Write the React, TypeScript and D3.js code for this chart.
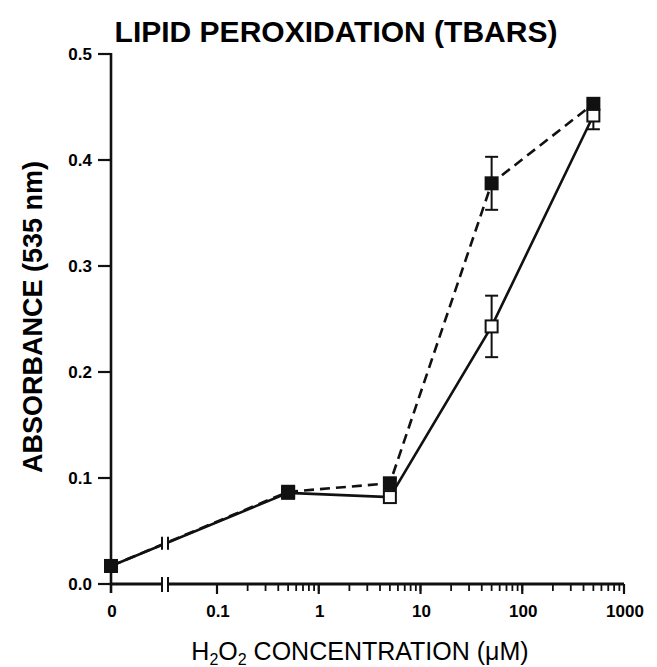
import React, { useEffect, useRef } from 'react';
import * as d3 from 'd3';

// H2O2 concentrations (uM); 0 is drawn left of the axis break
const concentrations = [0, 0.5, 5, 50, 500];
// filled squares, dashed line
const filledMeans = [0.017, 0.087, 0.095, 0.378, 0.453];
const filledErrors = [0.003, 0.003, 0.004, 0.025, 0.004];
// open squares, solid line
const openMeans = [0.017, 0.086, 0.082, 0.243, 0.442];
const openErrors = [0.003, 0.003, 0.004, 0.029, 0.013];

const yTicks = [0, 0.1, 0.2, 0.3, 0.4, 0.5];
const xMajorTicks = [0.1, 1, 10, 100, 1000];
const xTickLabels = ['0.1', '1', '10', '100', '1000'];

const FONT = '"Liberation Sans", Arial, Helvetica, sans-serif';

function App() {
    const ref = useRef<SVGSVGElement>(null);

    const width = 657;
    const height = 667;
    const zeroX = 111;
    const breakX = 165;

    useEffect(() => {
        d3.select(ref.current).selectAll('*').remove();
        draw();
    }, []);

    function draw() {
        const svg = d3.select(ref.current);

        const xLog = d3.scaleLog().domain([0.1, 1000]).range([217, 624]);
        const xPos = (v: number) => (v === 0 ? zeroX : xLog(v));
        const y = d3.scaleLinear().domain([0, 0.5]).range([584, 54]);

        // title
        svg.append('text')
            .attr('x', 336).attr('y', 42)
            .attr('text-anchor', 'middle')
            .style('font-family', FONT).style('font-weight', 'bold').style('font-size', '30px')
            .text('LIPID PEROXIDATION (TBARS)');

        // y label
        svg.append('text')
            .attr('transform', 'translate(42,317) rotate(-90)')
            .attr('text-anchor', 'middle')
            .style('font-family', FONT).style('font-weight', 'bold').style('font-size', '27px')
            .text('ABSORBANCE (535 nm)');

        // x label (the scan cuts it at the bottom edge; kept just inside here)
        const xl = svg.append('text')
            .attr('x', 360).attr('y', 660)
            .attr('text-anchor', 'middle')
            .style('font-family', FONT).style('font-size', '25px');
        xl.append('tspan').text('H');
        xl.append('tspan').attr('dy', 5).style('font-size', '16px').text('2');
        xl.append('tspan').attr('dy', -5).text('O');
        xl.append('tspan').attr('dy', 5).style('font-size', '16px').text('2');
        xl.append('tspan').attr('dy', -5).text(' CONCENTRATION (\u03BCM)');

        const axis = svg.append('g').attr('stroke', '#111').attr('fill', 'none');

        // y axis
        axis.append('line')
            .attr('x1', zeroX).attr('x2', zeroX)
            .attr('y1', y(0.5) - 1).attr('y2', y(0) + 9)
            .attr('stroke-width', 2.6);
        axis.selectAll('.ytick').data(yTicks).enter().append('line')
            .attr('x1', zeroX - 13).attr('x2', zeroX)
            .attr('y1', d => y(d)).attr('y2', d => y(d))
            .attr('stroke-width', 2.2);
        svg.selectAll('.ylab').data(yTicks).enter().append('text')
            .attr('x', 92).attr('y', d => y(d)).attr('dy', '0.36em')
            .attr('text-anchor', 'end')
            .style('font-family', FONT).style('font-weight', 'bold').style('font-size', '17px')
            .text(d => d3.format('.1f')(d));

        // x axis with break
        axis.append('line')
            .attr('x1', zeroX).attr('x2', breakX - 3)
            .attr('y1', y(0)).attr('y2', y(0)).attr('stroke-width', 2.8);
        axis.append('line')
            .attr('x1', breakX + 3).attr('x2', xLog(1000))
            .attr('y1', y(0)).attr('y2', y(0)).attr('stroke-width', 3);
        [-3, 3].forEach(o => {
            axis.append('line')
                .attr('x1', breakX + o).attr('x2', breakX + o)
                .attr('y1', y(0) - 7).attr('y2', y(0) + 8)
                .attr('stroke-width', 2);
        });
        axis.selectAll('.xminor').data(xLog.ticks()).enter().append('line')
            .attr('x1', d => xLog(d)).attr('x2', d => xLog(d))
            .attr('y1', y(0)).attr('y2', y(0) + 7)
            .attr('stroke-width', 1.8);
        axis.selectAll('.xmajor').data(xMajorTicks).enter().append('line')
            .attr('x1', d => xLog(d)).attr('x2', d => xLog(d))
            .attr('y1', y(0)).attr('y2', y(0) + 10)
            .attr('stroke-width', 2.2);

        const xLabelData = [{ v: 0, t: '0' }].concat(xMajorTicks.map((v, i) => ({ v, t: xTickLabels[i] })));
        svg.selectAll('.xlab').data(xLabelData).enter().append('text')
            .attr('x', d => xPos(d.v) + 1).attr('y', 617)
            .attr('text-anchor', 'middle')
            .style('font-family', FONT).style('font-weight', 'bold').style('font-size', '17px')
            .text(d => d.t);

        // series lines
        const line = d3.line<number>()
            .x((d, i) => xPos(concentrations[i]))
            .y(d => y(d));

        svg.append('path')
            .attr('d', line(openMeans))
            .attr('fill', 'none').attr('stroke', '#111').attr('stroke-width', 2.6);
        svg.append('path')
            .attr('d', line(filledMeans))
            .attr('fill', 'none').attr('stroke', '#111').attr('stroke-width', 2.6)
            .attr('stroke-dasharray', '10,6');

        // break on the first segment of the data line
        const x0 = xPos(concentrations[0]);
        const x1 = xPos(concentrations[1]);
        const yb = y(openMeans[0]) + (y(openMeans[1]) - y(openMeans[0])) * (breakX - x0) / (x1 - x0);
        svg.append('rect')
            .attr('x', breakX - 2).attr('y', yb - 6).attr('width', 4).attr('height', 12)
            .attr('fill', '#fff');
        [-3, 3].forEach(o => {
            svg.append('line')
                .attr('x1', breakX + o).attr('x2', breakX + o)
                .attr('y1', yb - 7).attr('y2', yb + 6)
                .attr('stroke', '#111').attr('stroke-width', 2);
        });

        // error bars
        const series = [
            { means: openMeans, errs: openErrors, filled: false },
            { means: filledMeans, errs: filledErrors, filled: true },
        ];
        series.forEach(s => {
            const g = svg.append('g').attr('stroke', '#111').attr('stroke-width', 2);
            s.means.forEach((m, i) => {
                const cx = xPos(concentrations[i]);
                g.append('line').attr('x1', cx).attr('x2', cx)
                    .attr('y1', y(m - s.errs[i])).attr('y2', y(m + s.errs[i]));
                [m - s.errs[i], m + s.errs[i]].forEach(v => {
                    g.append('line').attr('x1', cx - 6.5).attr('x2', cx + 6.5)
                        .attr('y1', y(v)).attr('y2', y(v));
                });
            });
        });

        // markers
        series.forEach(s => {
            svg.selectAll(null).data(s.means).enter().append('rect')
                .attr('x', (d, i) => xPos(concentrations[i]) - 6)
                .attr('y', d => y(d) - 6)
                .attr('width', 12).attr('height', 12)
                .attr('fill', s.filled ? '#111' : '#fff')
                .attr('stroke', '#111').attr('stroke-width', 2);
        });
    }

    return (
        <svg ref={ref} width={width} height={height}
            style={{ position: 'absolute', left: 0, top: 0, background: '#fff' }} />
    );
}

export default App;
